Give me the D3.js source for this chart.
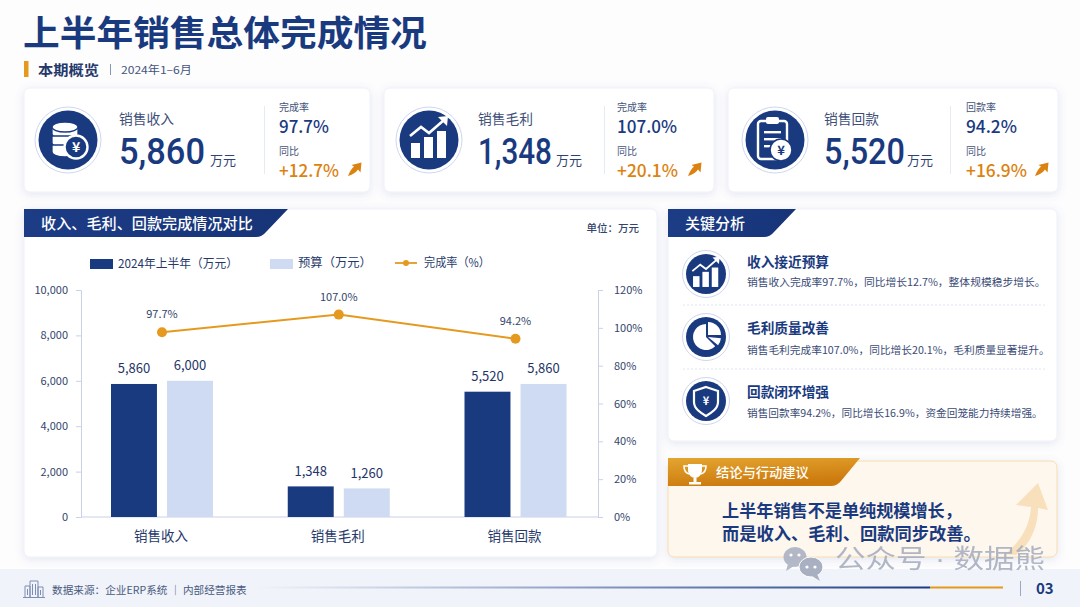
<!DOCTYPE html>
<html lang="zh">
<head>
<meta charset="utf-8">
<title>上半年销售总体完成情况</title>
<script src="https://cdn.jsdelivr.net/npm/d3@7"></script>
<style>
  html, body { margin: 0; padding: 0; background: #fdfdfe; overflow: hidden; }
  svg { display: block; font-family: "Noto Sans CJK SC", "Noto Sans", sans-serif; }
</style>
</head>
<body>
<svg id="chart" width="1080" height="607"></svg>
<script>
// chart data
const categories = ["销售收入", "销售毛利", "销售回款"];
const actualValues = [5860, 1348, 5520];
const budgetValues = [6000, 1260, 5860];
const rateValues = [97.7, 107.0, 94.2];
const seriesNames = ["2024年上半年（万元）", "预算（万元）", "完成率（%）"];
const leftTicks = [0, 2000, 4000, 6000, 8000, 10000];
const rightTicks = [0, 20, 40, 60, 80, 100, 120];

// KPI cards
const kpiValueLabels = ["5,860", "1,348", "5,520"];
const kpiRateNames = ["完成率", "完成率", "回款率"];
const kpiRates = ["97.7%", "107.0%", "94.2%"];
const kpiGrowth = ["+12.7%", "+20.1%", "+16.9%"];

// analysis list
const analysisTitles = ["收入接近预算", "毛利质量改善", "回款闭环增强"];
const analysisTexts = [
  "销售收入完成率97.7%，同比增长12.7%，整体规模稳步增长。",
  "销售毛利完成率107.0%，同比增长20.1%，毛利质量显著提升。",
  "销售回款率94.2%，同比增长16.9%，资金回笼能力持续增强。"
];
const conclusionLines = ["上半年销售不是单纯规模增长，", "而是收入、毛利、回款同步改善。"];

const navy = "#1a3a80";
const ink = "#2f4372";
const lightBlue = "#cfdbf2";
const orange = "#e59a1f";
const orangeText = "#dc8210";

const svg = d3.select("#chart");
const defs = svg.append("defs");

const shadow = defs.append("filter").attr("id", "shadow")
  .attr("x", "-5%").attr("y", "-8%").attr("width", "110%").attr("height", "118%");
shadow.append("feDropShadow").attr("dx", 0).attr("dy", 2).attr("stdDeviation", 4)
  .attr("flood-color", "#5a6ea8").attr("flood-opacity", 0.16);

function gradient(id, stops, x2 = 1, y2 = 0) {
  const g = defs.append("linearGradient").attr("id", id)
    .attr("x1", 0).attr("y1", 0).attr("x2", x2).attr("y2", y2);
  stops.forEach(s => g.append("stop").attr("offset", s[0]).attr("stop-color", s[1]));
}
gradient("bannerBlue", [[0, "#1c3c86"], [1, "#173478"]]);
gradient("bannerOrange", [[0, "#e4a52f"], [1, "#cc7a0e"]], 0.35, 1);
gradient("footerLine", [[0, "#f0f3f9"], [0.35, "#a9b6d4"], [1, navy]]);

// y is the visual centre of the text; opts.width squeezes the text to that width
function label(parent, x, y, str, opts = {}) {
  const size = opts.size || 12;
  const t = parent.append("text")
    .attr("dominant-baseline", "central")
    .attr("text-anchor", opts.anchor || "start")
    .attr("font-size", size)
    .attr("font-weight", opts.weight || 400)
    .attr("fill", opts.color || ink)
    .text(str);
  if (opts.font) t.attr("font-family", opts.font);
  const k = opts.width ? opts.width / t.node().getComputedTextLength() : 1;
  t.attr("transform", `translate(${x},${y - size * 0.07}) scale(${k},1)`);
  return t;
}

function card(x, y, w, h, fill = "#fff", stroke = "#eef1f8") {
  return svg.append("rect")
    .attr("x", x).attr("y", y).attr("width", w).attr("height", h).attr("rx", 6)
    .attr("fill", fill).attr("stroke", stroke)
    .attr("filter", "url(#shadow)");
}

/* ---------- icons, each drawn around (0,0) ---------- */

function badge(x, y, r) {
  const g = svg.append("g").attr("transform", `translate(${x},${y})`);
  g.append("circle").attr("r", r + 3.5).attr("fill", "#fff").attr("stroke", "#cdd7ee").attr("stroke-width", 1);
  g.append("circle").attr("r", r).attr("fill", navy);
  return g;
}

function iconCoins(g) {
  [-13, -4, 5].forEach(dy => {
    g.append("path").attr("d", `M-16,${dy} v7 a13,5 0 0 0 26,0 v-7 z`)
      .attr("fill", "#fff").attr("stroke", navy).attr("stroke-width", 1.3);
  });
  g.append("ellipse").attr("cx", -3).attr("cy", -13).attr("rx", 13).attr("ry", 5)
    .attr("fill", "#fff").attr("stroke", navy).attr("stroke-width", 1.3);
  g.append("circle").attr("cx", 8).attr("cy", 7).attr("r", 11.5)
    .attr("fill", navy).attr("stroke", "#fff").attr("stroke-width", 2.4);
  label(g, 8, 7, "¥", { anchor: "middle", size: 14, weight: 700, color: "#fff" });
}

function iconChart(g, k = 1) {
  const inner = g.append("g").attr("transform", `scale(${k})`);
  [[-18, 3, 9, 15], [-5, -3, 9, 21], [8, -9, 9, 27]].forEach(b => {
    inner.append("rect").attr("x", b[0]).attr("y", b[1]).attr("width", b[2]).attr("height", b[3]).attr("fill", "#fff");
  });
  inner.append("path").attr("d", "M-19,-4 L-8,-13 L0,-7 L15,-20")
    .attr("fill", "none").attr("stroke", "#fff").attr("stroke-width", 2.6);
  inner.append("path").attr("d", "M9,-23 L19,-24 L18,-14 z").attr("fill", "#fff");
}

function iconClipboard(g) {
  g.append("rect").attr("x", -17).attr("y", -19).attr("width", 29).attr("height", 38).attr("rx", 3)
    .attr("fill", navy).attr("stroke", "#fff").attr("stroke-width", 2.4);
  g.append("rect").attr("x", -9).attr("y", -23).attr("width", 13).attr("height", 7).attr("rx", 2)
    .attr("fill", "#fff");
  [-9, -2, 5].forEach((dy, i) => {
    g.append("rect").attr("x", -11).attr("y", dy).attr("width", i === 2 ? 10 : 17).attr("height", 2.4).attr("fill", "#fff");
  });
  g.append("circle").attr("cx", 6).attr("cy", 10).attr("r", 11)
    .attr("fill", "#fff").attr("stroke", navy).attr("stroke-width", 1.6);
  label(g, 6, 10, "¥", { anchor: "middle", size: 13, weight: 700, color: navy });
}

function iconPie(g) {
  const arc = d3.arc().innerRadius(0);
  g.append("path").attr("fill", "#fff").attr("d", arc({ outerRadius: 13, startAngle: Math.PI * 0.75, endAngle: Math.PI * 2 }));
  g.append("path").attr("fill", "#fff").attr("transform", "translate(2,-2)")
    .attr("d", arc({ outerRadius: 13, startAngle: 0, endAngle: Math.PI * 0.5 }));
  g.append("path").attr("fill", "#fff").attr("transform", "translate(2,0)")
    .attr("d", arc({ outerRadius: 13, startAngle: Math.PI * 0.53, endAngle: Math.PI * 0.72 }));
}

function iconShield(g) {
  g.append("path").attr("d", "M0,-14 L12,-10 V1 C12,8 5,12 0,15 C-5,12 -12,8 -12,1 V-10 Z")
    .attr("fill", "none").attr("stroke", "#fff").attr("stroke-width", 2.2);
  label(g, 0, 0, "¥", { anchor: "middle", size: 11, weight: 700, color: "#fff" });
}

function iconUpArrow(x, y) {
  svg.append("path").attr("transform", `translate(${x},${y})`)
    .attr("d", "M-7,7 C-5,2 -3,-1 -1,-2.5 L-3.5,-4 L6.5,-6.5 L5.5,3.5 L3,0.5 C1,3.5 -3,6 -7,7 Z")
    .attr("fill", orangeText);
}

/* ---------- header ---------- */

label(svg, 23, 33, "上半年销售总体完成情况", { size: 35, weight: 700, color: navy, width: 404 });
svg.append("rect").attr("x", 24).attr("y", 61).attr("width", 4.5).attr("height", 16).attr("fill", orange);
label(svg, 38, 70, "本期概览", { size: 14, weight: 700, color: "#24386b", width: 61 });
svg.append("rect").attr("x", 110).attr("y", 64).attr("width", 1).attr("height", 11).attr("fill", "#8a96b5");
label(svg, 121, 70, "2024年1–6月", { size: 11, color: "#44547c", width: 71 });

/* ---------- KPI cards ---------- */

const kpiCards = [
  { x: 24, w: 346, cx: 68, text: 119, numW: 86, unit: 210, div: 264, side: 279, rateW: 50, growW: 60, arrow: 355, icon: iconCoins },
  { x: 384, w: 330, cx: 429, text: 478, numW: 74, unit: 556, div: 604, side: 617, rateW: 60, growW: 61, arrow: 695, icon: iconChart },
  { x: 728, w: 330, cx: 775, text: 824, numW: 81, unit: 907, div: 950, side: 966, rateW: 51, growW: 61, arrow: 1042, icon: iconClipboard }
];

kpiCards.forEach((c, i) => {
  card(c.x, 88, c.w, 104);
  c.icon(badge(c.cx, 140, 29.5));
  label(svg, c.text, 119, categories[i], { size: 13.5, color: "#3e4f78", width: 55 });
  label(svg, c.text, 154, kpiValueLabels[i], { size: 37, weight: 500, color: navy, width: c.numW, font: "Roboto, 'Noto Sans', sans-serif" });
  label(svg, c.unit, 160, "万元", { size: 13, color: ink });
  svg.append("rect").attr("x", c.div).attr("y", 106).attr("width", 1).attr("height", 68).attr("fill", "#e6eaf3");
  label(svg, c.side, 107, kpiRateNames[i], { size: 10, color: "#44547c" });
  label(svg, c.side, 127, kpiRates[i], { size: 17.5, weight: 500, color: navy, width: c.rateW });
  label(svg, c.side, 151, "同比", { size: 10, color: "#44547c" });
  label(svg, c.side, 171, kpiGrowth[i], { size: 17.5, weight: 500, color: orangeText, width: c.growW });
  iconUpArrow(c.arrow, 169);
});

/* ---------- combo chart ---------- */

card(24, 209, 633, 348);
svg.append("path").attr("d", "M24,209 H288 L266,232 Q262,237 256,237 H24 Z").attr("fill", "url(#bannerBlue)");
label(svg, 41, 224, "收入、毛利、回款完成情况对比", { size: 14.5, weight: 500, color: "#fff", width: 212 });
label(svg, 639, 228, "单位：万元", { size: 10.5, weight: 500, anchor: "end", color: "#33456b" });

const x = d3.scalePoint().domain(categories).range([162, 515.5]);
const inner = d3.scaleBand().domain([0, 1]).range([-51, 51]).paddingInner(0.18);
const yLeft = d3.scaleLinear().domain([0, 10000]).range([517, 290]);
const yRight = d3.scaleLinear().domain([0, 120]).range([517, 290]);

const axisColor = "#c9d1e8";
function styleAxis(g) {
  g.selectAll("path, line").attr("stroke", axisColor);
  g.selectAll("text").attr("fill", "#33456b").attr("font-size", 11)
    .attr("font-family", "'Noto Sans CJK SC', sans-serif");
}

svg.append("g").attr("transform", "translate(81,0)")
  .call(d3.axisLeft(yLeft).tickValues(leftTicks).tickFormat(d3.format(",")).tickSize(5).tickPadding(8).tickSizeOuter(0))
  .call(styleAxis);
svg.append("g").attr("transform", "translate(598,0)")
  .call(d3.axisRight(yRight).tickValues(rightTicks).tickFormat(d => d + "%").tickSize(5).tickPadding(11).tickSizeOuter(0))
  .call(styleAxis);
svg.append("line").attr("x1", 81).attr("x2", 598).attr("y1", 517).attr("y2", 517).attr("stroke", axisColor);

[actualValues, budgetValues].forEach((values, s) => {
  const color = s === 0 ? navy : lightBlue;
  const group = svg.append("g");
  group.selectAll("rect").data(values).join("rect")
    .attr("x", (d, i) => x(categories[i]) + inner(s))
    .attr("y", d => yLeft(d))
    .attr("width", inner.bandwidth())
    .attr("height", d => yLeft(0) - yLeft(d))
    .attr("fill", color);
  group.selectAll("text").data(values).join("text")
    .attr("x", (d, i) => x(categories[i]) + inner(s) + inner.bandwidth() / 2)
    .attr("y", d => yLeft(d) - 16)
    .attr("dominant-baseline", "central")
    .attr("text-anchor", "middle")
    .attr("font-size", 13)
    .attr("fill", "#1f3568")
    .text(d3.format(","));
});

const rateLine = d3.line().x((d, i) => x(categories[i])).y(d => yRight(d));
svg.append("path").datum(rateValues).attr("d", rateLine)
  .attr("fill", "none").attr("stroke", orange).attr("stroke-width", 2);
svg.append("g").selectAll("circle").data(rateValues).join("circle")
  .attr("cx", (d, i) => x(categories[i])).attr("cy", d => yRight(d)).attr("r", 5).attr("fill", orange);
svg.append("g").selectAll("text").data(rateValues).join("text")
  .attr("x", (d, i) => x(categories[i])).attr("y", d => yRight(d) - 19)
  .attr("dominant-baseline", "central").attr("text-anchor", "middle")
  .attr("font-size", 11).attr("fill", "#33456b")
  .text(d => d.toFixed(1) + "%");

categories.forEach(c => {
  label(svg, x(c) - 1, 536, c, { anchor: "middle", size: 13.5, color: "#26396a" });
});

// legend
svg.append("rect").attr("x", 90).attr("y", 259).attr("width", 23).attr("height", 10).attr("fill", navy);
label(svg, 118, 263, seriesNames[0], { size: 12, color: "#26396a", width: 120 });
svg.append("rect").attr("x", 270).attr("y", 259).attr("width", 23).attr("height", 10).attr("fill", lightBlue);
label(svg, 298, 263, seriesNames[1], { size: 12, color: "#26396a", width: 74 });
svg.append("line").attr("x1", 395).attr("x2", 417).attr("y1", 263).attr("y2", 263).attr("stroke", orange).attr("stroke-width", 1.8);
svg.append("circle").attr("cx", 406).attr("cy", 263).attr("r", 3).attr("fill", orange);
label(svg, 424, 263, seriesNames[2], { size: 12, color: "#26396a", width: 66 });

/* ---------- key analysis ---------- */

card(668, 209, 389, 232);
svg.append("path").attr("d", "M668,209 H796 L774,232 Q770,237 764,237 H668 Z").attr("fill", "url(#bannerBlue)");
label(svg, 685, 224, "关键分析", { size: 14.5, weight: 500, color: "#fff", width: 60 });

const analysisIcons = [g => iconChart(g, 0.72), iconPie, iconShield];
const analysisIconY = [274, 337, 401];
const analysisTitleY = [262, 328, 392];
const analysisTextY = [282, 350, 413];
const analysisWidth = [299, 303, 296];

analysisTitles.forEach((t, i) => {
  analysisIcons[i](badge(706, analysisIconY[i], 20));
  label(svg, 747, analysisTitleY[i], t, { size: 13.5, weight: 700, color: navy, width: 82 });
  label(svg, 747, analysisTextY[i], analysisTexts[i], { size: 10.5, color: "#3a4b76", width: analysisWidth[i] });
});
[305, 369].forEach(y => {
  svg.append("line").attr("x1", 683).attr("x2", 1045).attr("y1", y).attr("y2", y)
    .attr("stroke", "#dfe4f1").attr("stroke-dasharray", "2 2");
});

/* ---------- conclusion ---------- */

card(668, 461, 389, 96, "#fef7ee", "#f8dcae");
svg.append("path")
  .attr("d", "M1005,554 C1018,544 1030,528 1031,507 L1016,505 L1038,483 L1048,510 L1038,508 C1038,530 1028,546 1016,555 Z")
  .attr("fill", "#f7e0bb");
svg.append("path").attr("d", "M668,458 H860 L841,481 Q837,486 831,486 H668 Z").attr("fill", "url(#bannerOrange)");

const trophy = svg.append("g").attr("transform", "translate(695,473)").attr("fill", "#fff");
trophy.append("path").attr("d", "M-7,-9 H7 V-3 C7,2 3,5 0,5 C-3,5 -7,2 -7,-3 Z");
trophy.append("path").attr("d", "M-7,-7 H-11 C-11,-2 -9,0 -6,1 M7,-7 H11 C11,-2 9,0 6,1")
  .attr("fill", "none").attr("stroke", "#fff").attr("stroke-width", 1.6);
trophy.append("rect").attr("x", -1.5).attr("y", 5).attr("width", 3).attr("height", 4);
trophy.append("rect").attr("x", -6).attr("y", 9).attr("width", 12).attr("height", 2.5);

label(svg, 716, 472, "结论与行动建议", { size: 13, weight: 500, color: "#fff", width: 93 });
label(svg, 722, 511, conclusionLines[0], { size: 17, weight: 700, color: navy, width: 240 });
label(svg, 722, 534, conclusionLines[1], { size: 17, weight: 700, color: navy, width: 259 });

/* ---------- footer ---------- */

svg.insert("rect", "g").attr("x", 0).attr("y", 569).attr("width", 1080).attr("height", 38).attr("fill", "#f0f3f9");

const building = svg.append("g").attr("transform", "translate(34,589)").attr("fill", "none")
  .attr("stroke", "#7d8db3").attr("stroke-width", 1);
building.append("path").attr("d", "M-9,8 V-3 H-4 V8 M-4,8 V-8 H4 V8 M4,8 V-2 H9 V8 M-11,8.5 H11");
building.append("path").attr("d", "M-1.5,-5 V6 M1.5,-5 V6 M-6.5,0 V6 M6.5,1 V6");

label(svg, 52, 590, "数据来源：企业ERP系统 ｜ 内部经营报表", { size: 10.5, color: "#4a5a80", width: 195 });
svg.append("rect").attr("x", 258).attr("y", 586.5).attr("width", 672).attr("height", 2).attr("fill", "url(#footerLine)");
svg.append("rect").attr("x", 930).attr("y", 586.5).attr("width", 73).attr("height", 2).attr("fill", orange);
svg.append("rect").attr("x", 1020).attr("y", 581).attr("width", 1).attr("height", 15).attr("fill", "#9aa7c4");
label(svg, 1036, 589, "03", { size: 15, weight: 700, color: navy });

/* ---------- watermark ---------- */

const mark = svg.append("g").attr("opacity", 0.85);
const bubble1 = mark.append("g").attr("transform", "translate(795,557)");
bubble1.append("ellipse").attr("rx", 11.5).attr("ry", 10).attr("fill", "#a7aec0");
bubble1.append("path").attr("d", "M-7,7 L-9,14 L-1,9 Z").attr("fill", "#a7aec0");
[-4, 4].forEach(dx => bubble1.append("circle").attr("cx", dx).attr("cy", -2).attr("r", 1.6).attr("fill", "#fff"));
const bubble2 = mark.append("g").attr("transform", "translate(811,567)");
bubble2.append("ellipse").attr("rx", 12).attr("ry", 10).attr("fill", "#9ca4b8").attr("stroke", "#fff").attr("stroke-width", 1);
bubble2.append("path").attr("d", "M6,7 L9,14 L1,9 Z").attr("fill", "#9ca4b8");
[-4, 4].forEach(dx => bubble2.append("circle").attr("cx", dx).attr("cy", 0).attr("r", 1.6).attr("fill", "#fff"));
label(mark, 835, 561, "公众号 · 数据熊", { size: 26, color: "#a3abbd", width: 210, font: "'Liberation Sans', 'Noto Sans CJK SC', sans-serif" });
</script>
</body>
</html>
